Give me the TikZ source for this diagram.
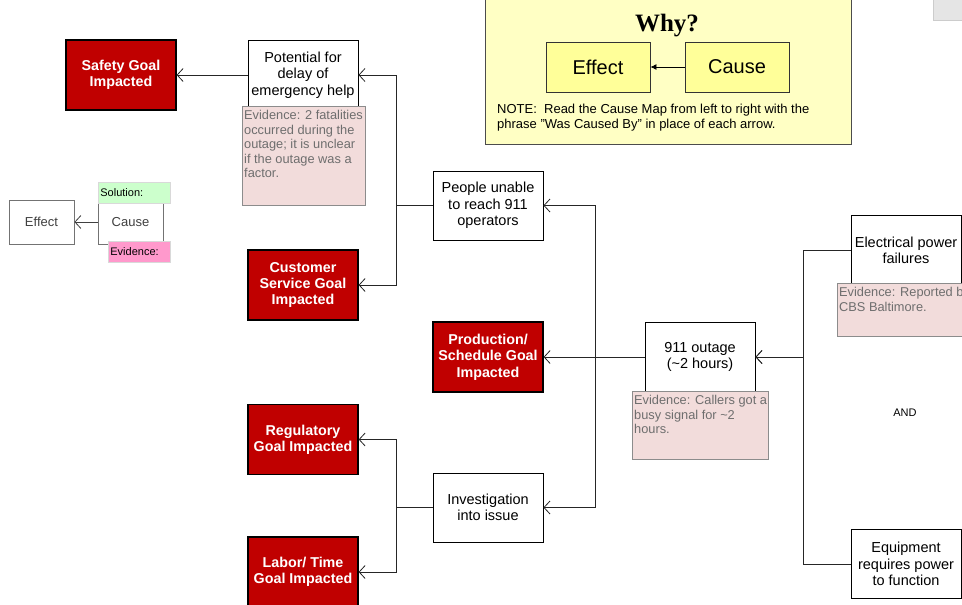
\documentclass[tikz,border=0pt]{standalone}
\usepackage{fontspec}
\setmainfont{Liberation Sans}
\newfontfamily\whyfont{Liberation Serif}
\usetikzlibrary{arrows.meta,shapes}
\definecolor{goalred}{HTML}{C00000}
\definecolor{evfill}{HTML}{F2DCDB}
\definecolor{evgray}{HTML}{6E6E6E}
\definecolor{whyfill}{HTML}{FFFFC4}
\definecolor{whyitemfill}{HTML}{FFFF99}
\definecolor{solfill}{HTML}{CCFFCC}
\definecolor{evpink}{HTML}{FF99CC}
\tikzstyle{goal}=[rectangle,draw=black,line width=1.2pt,fill=goalred,text=white,font=\fontsize{14.3}{16.3}\selectfont\bfseries,minimum width=110pt,minimum height=70pt,align=center,inner sep=0pt]
\tikzstyle{cause}=[rectangle,draw=black,line width=0.9pt,fill=white,font=\fontsize{14.5}{16.3}\selectfont,minimum width=110pt,minimum height=69pt,align=center,inner sep=0pt]
\tikzstyle{evbox}=[rectangle,draw=black!45,line width=0.8pt,fill=evfill,anchor=north west,inner sep=0pt]
\tikzstyle{evtext}=[anchor=north west,text=evgray,font=\fontsize{12.8}{14.6}\selectfont,align=left,inner xsep=2pt,inner ysep=4pt]
\tikzstyle{legend}=[rectangle,draw=black!55,line width=0.8pt,fill=white,text=black!75,font=\fontsize{13}{15}\selectfont,minimum width=65pt,minimum height=44pt,inner sep=0pt]
\tikzstyle{tag}=[rectangle,draw=black!15,line width=0.8pt,anchor=north west,font=\fontsize{11}{13}\selectfont,text width=68pt,align=left,minimum height=21pt,inner xsep=2pt,inner ysep=0pt]
\tikzstyle{whyitem}=[rectangle,draw=black!80,line width=0.9pt,fill=whyitemfill,font=\fontsize{20}{24}\selectfont,minimum width=104pt,minimum height=50pt,inner sep=0pt]
\tikzstyle{edge}=[draw,line width=0.8pt,black!85,-{Straight Barb[length=6pt,width=13pt]}]

\begin{document}
\begin{tikzpicture}[x=1pt,y=-1pt]

    \useasboundingbox (0,0) rectangle (962,605);
    \clip (0,0) rectangle (962,605);

    % legend
    \node[legend] (leffect) at (41.5,222) {Effect};
    \node[legend] (lcause) at (130.5,222) {Cause};
    \node[tag, fill=solfill] (lsol) at (98,182) {Solution:};
    \node[tag, fill=evpink, text width=58pt] (lev) at (108,241) {Evidence:};
    \path[edge, draw=black!75] (lcause) -- (leffect);

    % why box
    \node[rectangle, draw=black!70, line width=1.2pt, fill=whyfill, minimum width=366pt, minimum height=150pt, anchor=south west, inner sep=0pt] (why) at (485,145) {};
    \node[font=\whyfont\fontsize{25}{28}\selectfont\bfseries] (whytitle) at (667,26) {Why?};
    \node[whyitem] (weffect) at (598,67) {Effect};
    \node[whyitem] (wcause) at (737,67) {Cause};
    \path[draw, line width=0.8pt, -{Latex[length=6pt,width=6pt]}] (wcause) -- (weffect);
    \node[anchor=west, inner sep=0pt, align=left, font=\fontsize{13}{15}\selectfont] (note) at (497,117.5)
        {NOTE:\ \ Read the Cause Map from left to right with the\\phrase "Was Caused By" in place of each arrow.};

    \node[rectangle, draw=black!20, fill=black!10, minimum width=35pt, minimum height=25pt, anchor=south west, inner sep=0pt] (corner) at (933,20) {};

    % goals
    \foreach \x/\y/\name/\txt in {121/75/safety/{Safety Goal\\Impacted}, 303/285/customer/{Customer\\Service Goal\\Impacted}, 488/357/production/{Production/\\Schedule Goal\\Impacted}, 303/439.5/regulatory/{Regulatory\\Goal Impacted}, 303/572/labor/{Labor/ Time\\Goal Impacted}}
        \node[goal] (\name) at (\x,\y) {\txt};

    % causes
    \foreach \x/\y/\name/\txt in {303/75/potential/{Potential for\\delay of\\emergency help}, 488/205.5/people/{People unable\\to reach 911\\operators}, 700/357/outage/{911 outage\\(\textasciitilde2 hours)}, 488/507.5/investigation/{Investigation\\into issue}, 906/250/electrical/{Electrical power\\failures}, 906/564/equipment/{Equipment\\requires power\\to function}}
        \node[cause] (\name) at (\x,\y) {\txt};

    % evidence
    \node[evbox, minimum width=123pt, minimum height=99pt] (ev1) at (242,106) {};
    \node[evtext] (ev1t) at (ev1.north west) {Evidence: 2 fatalities\\occurred during the\\outage; it is unclear\\if the outage was a\\factor.};
    \node[evbox, minimum width=136pt, minimum height=68pt] (ev2) at (632,391) {};
    \node[evtext] (ev2t) at (ev2.north west) {Evidence: Callers got a\\busy signal for \textasciitilde2\\hours.};
    \node[evbox, minimum width=140pt, minimum height=53pt] (ev3) at (837,283) {};
    \node[evtext] (ev3t) at (ev3.north west) {Evidence: Reported by\\CBS Baltimore.};

    \node[font=\fontsize{11}{13}\selectfont] (and) at (905,413) {AND};

    % junctions
    \coordinate (j1) at (396,205.5);
    \coordinate (j2) at (595,357);
    \coordinate (j3) at (396,507.5);
    \coordinate (j4) at (803,357);

    \foreach \source/ \dest in {potential/safety, outage/production}
        \path[edge] (\source) -- (\dest);

    \foreach \source/ \via/ \dest in {people/j1/potential, people/j1/customer, outage/j2/people, outage/j2/investigation, investigation/j3/regulatory, investigation/j3/labor}
        \path[edge] (\source) -- (\via) |- (\dest);

    \foreach \source in {electrical, equipment}
        \path[edge] (\source) -| (j4) -- (outage);

\end{tikzpicture}
\end{document}
